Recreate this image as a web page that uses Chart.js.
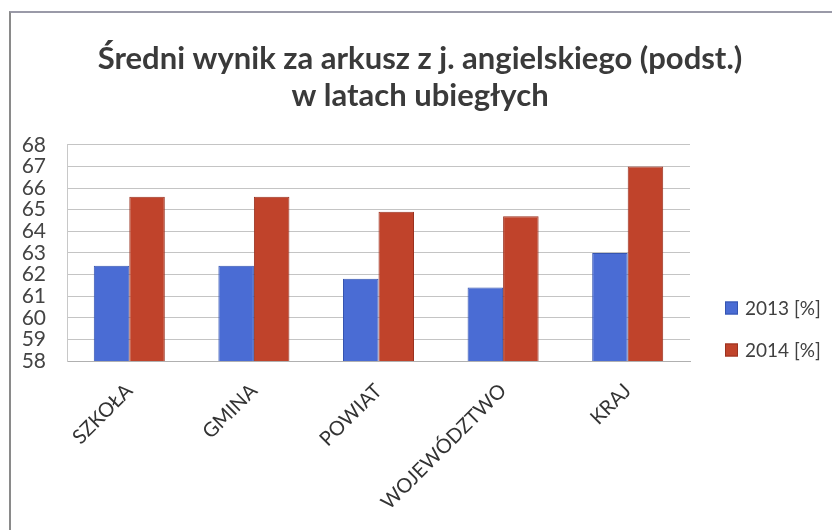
<!DOCTYPE html>
<html>
<head>
<meta charset="utf-8">
<script src="https://cdn.jsdelivr.net/npm/chart.js@4/dist/chart.umd.min.js"></script>
<style>
  html, body { margin: 0; padding: 0; background: #fff; }
  #wrap { position: relative; width: 840px; height: 530px; }
  #frame { position: absolute; left: 9px; top: 11px; width: 823px; height: 519px;
           border-left: 2px solid #8a8a8a; border-top: 2px solid #9a9aa8; box-sizing: border-box; pointer-events: none; }
  canvas { position: absolute; left: 0; top: 0; }
</style>
</head>
<body>
<div id="wrap">
  <canvas id="c" width="840" height="530"></canvas>
  <div id="frame"></div>
</div>
<script>
const titleLines = ['Średni wynik za arkusz z j. angielskiego (podst.)', 'w latach ubiegłych'];
const categories = ['SZKOŁA', 'GMINA', 'POWIAT', 'WOJEWÓDZTWO', 'KRAJ'];
const seriesNames = ['2013 [%]', '2014 [%]'];
const values2013 = [62.4, 62.4, 61.8, 61.4, 63.0];
const values2014 = [65.6, 65.6, 64.9, 64.7, 67.0];
const yMin = 58, yMax = 68, yStep = 1;
const colors = ['#4A6CD4', '#C0432B'];
const borderColors = ['#3554B0', '#9A3220'];

const FONT = 'Lato, "Open Sans", "DejaVu Sans", sans-serif';

const legendPlugin = {
  id: 'customLegend',
  afterDraw(chart) {
    const ctx = chart.ctx;
    ctx.save();
    const x0 = 725, ys = [308, 350], box = 13;
    chart.data.datasets.forEach((ds, i) => {
      ctx.fillStyle = ds.backgroundColor;
      ctx.fillRect(x0, ys[i] - box / 2, box, box);
      ctx.strokeStyle = ds.borderColor;
      ctx.lineWidth = 1;
      ctx.strokeRect(x0 + 0.5, ys[i] - box / 2 + 0.5, box - 1, box - 1);
      ctx.fillStyle = '#404040';
      ctx.font = '19px ' + FONT;
      ctx.textBaseline = 'middle';
      ctx.textAlign = 'left';
      ctx.fillText(ds.label, x0 + 20, ys[i] + 1);
    });
    ctx.restore();
  }
};

new Chart(document.getElementById('c'), {
  type: 'bar',
  data: {
    labels: categories,
    datasets: [
      { label: seriesNames[0], data: values2013, backgroundColor: colors[0], borderColor: borderColors[0], borderWidth: 1 },
      { label: seriesNames[1], data: values2014, backgroundColor: colors[1], borderColor: borderColors[1], borderWidth: 1 }
    ]
  },
  options: {
    responsive: false,
    animation: false,
    layout: { padding: 0 },
    datasets: { bar: { categoryPercentage: 0.57, barPercentage: 1.0 } },
    plugins: {
      legend: { display: false },
      tooltip: { enabled: false },
      title: {
        display: true,
        text: titleLines,
        color: '#3a3a3a',
        font: { family: FONT, size: 31, weight: 'bold', lineHeight: 1.19 },
        padding: { top: 41, bottom: 30 }
      }
    },
    scales: {
      x: {
        grid: { display: false, drawTicks: false },
        border: { display: true, color: '#b0b0b0' },
        ticks: {
          minRotation: 45, maxRotation: 45, autoSkip: false,
          color: '#333', padding: 18,
          font: { family: FONT, size: 20 }
        },
        afterFit(scale) { scale.height = 169; }
      },
      y: {
        min: yMin, max: yMax,
        grid: { color: '#c4c4c4', drawTicks: false },
        border: { display: true, color: '#c8c8c8' },
        ticks: {
          stepSize: yStep, autoSkip: false, color: '#444', padding: 21,
          font: { family: FONT, size: 21, lineHeight: 1 }
        },
        afterFit(scale) { scale.width = 67; }
      },
      yRight: {
        position: 'right',
        min: yMin, max: yMax,
        grid: { display: false, drawTicks: false },
        border: { display: false },
        ticks: { display: false },
        afterFit(scale) { scale.width = 150; }
      }
    }
  },
  plugins: [legendPlugin]
});
</script>
</body>
</html>
